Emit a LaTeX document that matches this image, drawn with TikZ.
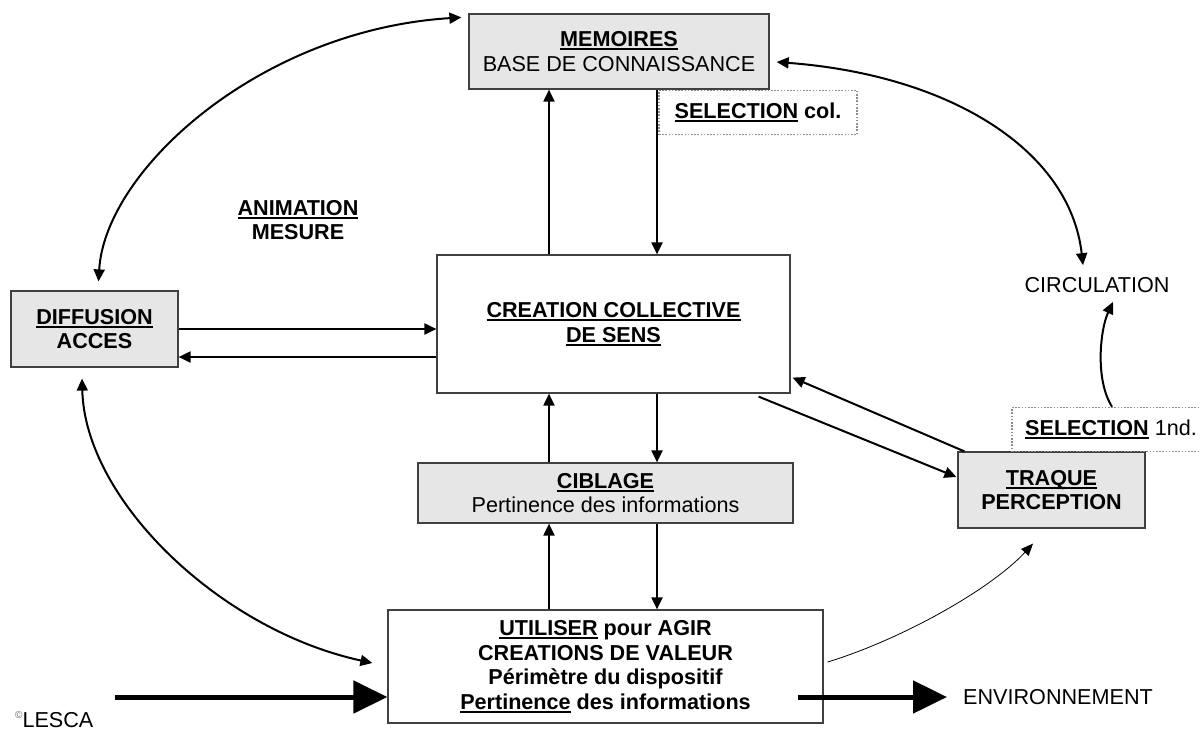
\documentclass[tikz,border=0pt]{standalone}
\usepackage{fontspec}
\setmainfont{Liberation Sans}
\usepackage{xcolor}
\usetikzlibrary{arrows.meta}
\definecolor{boxgray}{HTML}{E6E6E6}
\newcommand{\ulin}[1]{\setbox0\hbox{#1}\rlap{\rule[-3.5pt]{\wd0}{2pt}}\box0\relax}

\begin{document}
\begin{tikzpicture}[x=1pt,y=-1pt,
  every node/.style={font=\fontsize{21.6}{24.5}\selectfont, align=center, inner sep=0pt},
  box/.style={draw=black!75, line width=1.2pt},
  grisbox/.style={box, fill=boxgray},
  selbox/.style={draw=black!45, line width=1.6pt, dash pattern=on 1.6pt off 1.6pt, minimum width=198pt, minimum height=44pt},
  fl/.style={line width=2pt, -{Triangle[length=12pt,width=11pt]}},
  dfl/.style={line width=2pt, {Triangle[length=12pt,width=11pt]}-{Triangle[length=12pt,width=11pt]}},
  gros/.style={line width=5pt, -{Triangle[length=34pt,width=32pt]}}]
\useasboundingbox (0,0) rectangle (1201,733);

% boites
\node[grisbox, minimum width=300pt, minimum height=75pt] (mem) at (619,51.5) {\textbf{\ulin{MEMOIRES}}\\BASE DE CONNAISSANCE};
\node[selbox] (selc) at (758,112.5) {\textbf{\ulin{SELECTION} col.}};
\node[box, minimum width=353pt, minimum height=138pt] (sens) at (613.5,324) {\textbf{\ulin{CREATION COLLECTIVE}}\\\textbf{\ulin{DE SENS}}};
\node[grisbox, minimum width=167pt, minimum height=76pt] (diff) at (94.5,329) {\textbf{\ulin{DIFFUSION}}\\\textbf{ACCES}};
\node[grisbox, minimum width=375pt, minimum height=60pt] (cib) at (605.5,493) {\textbf{\ulin{CIBLAGE}}\\Pertinence des informations};
\node[grisbox, minimum width=187pt, minimum height=76pt] (traq) at (1051.5,490) {\textbf{\ulin{TRAQUE}}\\\textbf{PERCEPTION}};
\node[selbox] (sel1) at (1111,429.5) {\textbf{\ulin{SELECTION}} 1nd.};
\node[box, minimum width=435pt, minimum height=113pt] (util) at (605.5,666.5) {\textbf{\ulin{UTILISER} pour AGIR}\\\textbf{CREATIONS DE VALEUR}\\\textbf{Périmètre du dispositif}\\\textbf{\ulin{Pertinence} des informations}};

% textes libres
\node (anim) at (298,220) {\textbf{\ulin{ANIMATION}}\\\textbf{MESURE}};
\node (circ) at (1097,285) {CIRCULATION};
\node[anchor=west] (env) at (963,697) {ENVIRONNEMENT};
\node[anchor=west] (lesca) at (15,720) {{\fontsize{10}{10}\selectfont\raisebox{9pt}{\color{black!60}©}}LESCA};

% fleches verticales
\coordinate (up) at (549,0);
\coordinate (dn) at (657,0);
\draw[fl] (sens.north -| up) -- (mem.south -| up);
\draw[fl] (mem.south -| dn) -- (sens.north -| dn);
\draw[fl] (cib.north -| up) -- (sens.south -| up);
\draw[fl] (sens.south -| dn) -- (cib.north -| dn);
\draw[fl] (util.north -| up) -- (cib.south -| up);
\draw[fl] (cib.south -| dn) -- (util.north -| dn);

% diffusion <-> sens
\coordinate (ha) at (0,329);
\coordinate (hb) at (0,357);
\draw[fl] (diff.east |- ha) -- (sens.west |- ha);
\draw[fl] (sens.west |- hb) -- (diff.east |- hb);

% sens <-> traque
\draw[fl] ([xshift=7pt]traq.north west) -- ([xshift=2pt,yshift=16pt]sens.south east);
\draw[fl] ([xshift=-32pt,yshift=-3pt]sens.south east) -- ([xshift=-1pt,yshift=13pt]traq.west);

% arcs
\draw[dfl] ([xshift=4pt,yshift=9pt]diff.north) .. controls (105,170) and (260,30) .. ([xshift=-7pt,yshift=-4pt]mem.north west);
\draw[dfl] ([xshift=-12.5pt,yshift=-11pt]diff.south) .. controls (85,500) and (220,630) .. ([xshift=-15pt,yshift=3.5pt]util.west);
\draw[dfl] ([xshift=7pt,yshift=-10.5pt]mem.east) .. controls (950,75) and (1070,150) .. ([xshift=-14pt,yshift=12pt]circ.north);
\draw[fl] ([xshift=1pt]sel1.north) .. controls (1095,380) and (1100,330) .. ([xshift=16pt,yshift=-9pt]circ.south);
\draw[line width=0.8pt,-{Triangle[length=12pt,width=10pt]}] ([xshift=4pt,yshift=4.5pt]util.east) .. controls (900,640) and (990,590) .. ([xshift=-18.5pt,yshift=-15pt]traq.south);

% entree / sortie
\coordinate (entree) at (115,697);
\draw[gros] (entree) -- (util.west |- entree);
\draw[gros] ([xshift=-26pt]util.east |- env.west) -- ([xshift=-16pt]env.west);
\end{tikzpicture}
\end{document}
